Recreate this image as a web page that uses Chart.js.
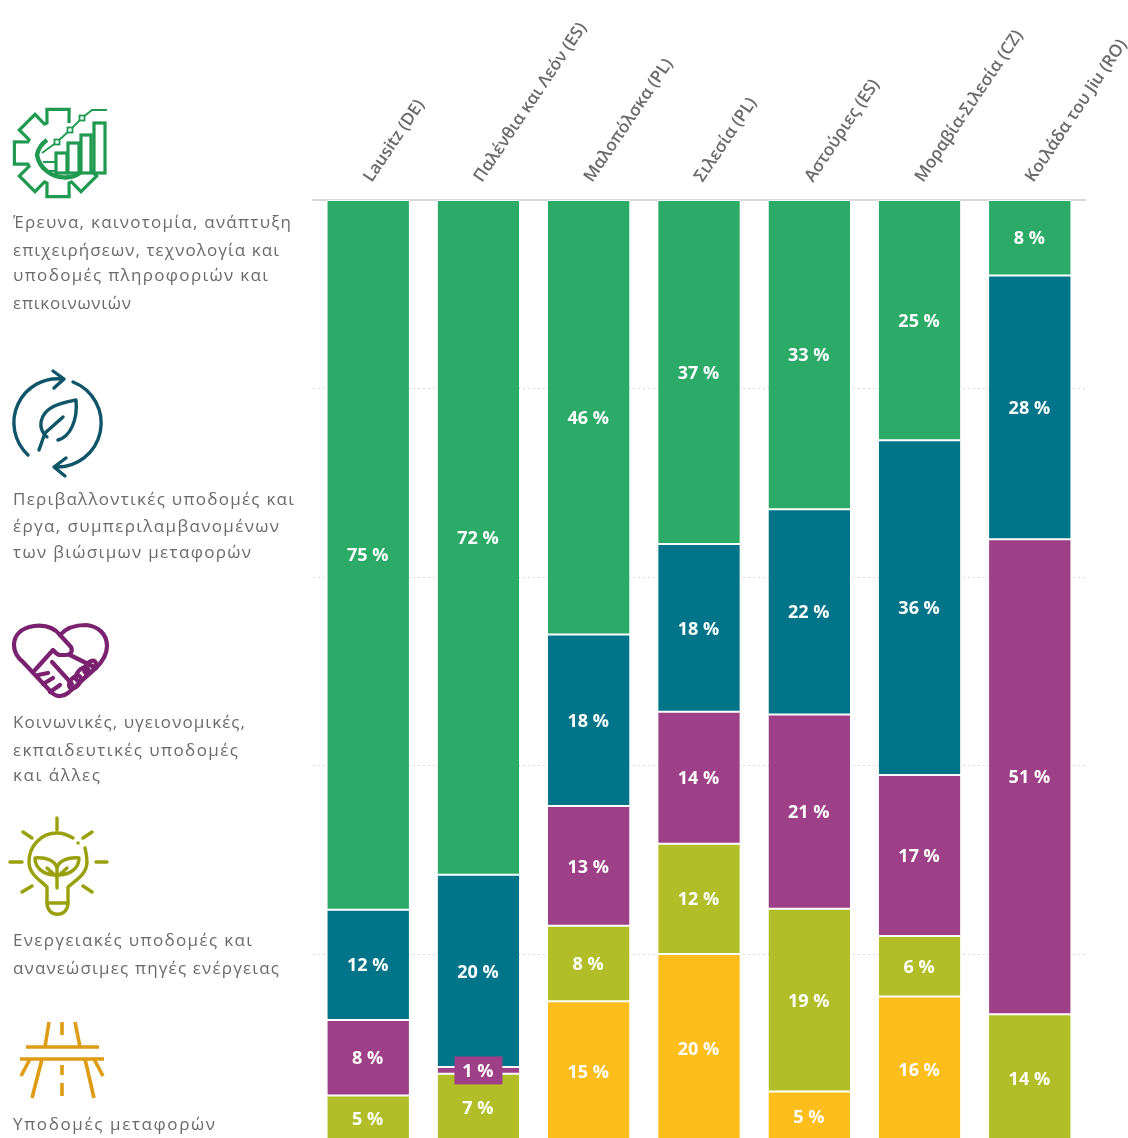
<!DOCTYPE html>
<html lang="el"><head><meta charset="utf-8">
<script src="https://cdn.jsdelivr.net/npm/chart.js@4"></script>
<style>
html,body{margin:0;padding:0;background:#fff;width:1128px;height:1138px;overflow:hidden}
#wrap{position:relative;width:1128px;height:1138px;overflow:hidden}
canvas{position:absolute;left:0;top:0}
svg{position:absolute;left:0;top:0}
</style></head><body>
<div id="wrap"><canvas id="c" width="1128" height="1150" style="width:1128px;height:1150px"></canvas>
<svg id="side" width="320" height="1138" viewBox="0 0 320 1138" xmlns="http://www.w3.org/2000/svg">
<!-- gear -->
<g fill="none" stroke="#1f9a50" stroke-width="3.2" stroke-linejoin="miter">
<path id="gear"/>
<path d="M47 140 A24 24 0 0 0 37 155 A26 26 0 0 0 48 172 C56 178 70 180 80 173" stroke-width="4.4"/>
<path d="M43 162 H55 M46 171 H55" stroke-width="2"/>
<path d="M42 153 L57 142 L70 130 L82 118 L92 110 L107 110" stroke-width="1.8"/>
<g fill="#fff"><rect x="56" y="153" width="11" height="20"/><rect x="68" y="143" width="11" height="30"/><rect x="81" y="135" width="10" height="38"/><rect x="94" y="123" width="11" height="50"/></g>
<g fill="#fff" stroke-width="1.8"><rect x="54.500" y="139.500" width="5" height="5"/><rect x="67.500" y="127.500" width="5" height="5"/><rect x="79.500" y="115.500" width="5" height="5"/></g>
</g>
<!-- leaf cycle -->
<g fill="none" stroke="#0f5567" stroke-width="3.4" stroke-linecap="round" stroke-linejoin="round">
<path d="M63 379 A44 44 0 0 0 28 455"/><path d="M53 371 L64 379 L54 388"/>
<path d="M73 382 A44 44 0 0 1 55 467"/><path d="M66 458 L54 467 L65 476"/>
<path d="M58 440 C70 437 78 420 76 400 C62 403 44 406 41 422 C40 428 43 434 47 437"/>
<path d="M39 450 L45 433 L63 417"/>
</g>
<!-- heart handshake -->
<g fill="none" stroke="#7a2170" stroke-width="4.2" stroke-linecap="round" stroke-linejoin="round">
<path d="M60 635 C52 625 42 625 34 626 C20 628 14 636 14 645 C14 652 18 658 23 662 L52 693 C58 698 64 696 68 693 L96 668 C104 660 107 654 107 646 C107 634 98 626 86 625 C76 625 66 628 60 635"/>
<path d="M60 635 L71 647 C73 651 71 655 66 655 L60 655 C57 655 55 652 53 650 L35 670"/>
<path d="M38 675 L48 673 M43 684 L53 678 M50 692 L60 685 M52 662 L72 684"/>
<path d="M70 655 L96 668"/>
<ellipse cx="75" cy="682" rx="7.500" ry="4.500" transform="rotate(-50 75 682)"/>
<ellipse cx="82" cy="674" rx="8" ry="4.500" transform="rotate(-50 82 674)"/>
<ellipse cx="90" cy="667" rx="7.500" ry="4.200" transform="rotate(-50 90 667)"/>
</g>
<!-- bulb -->
<g fill="none" stroke="#9aa00c" stroke-width="3.4" stroke-linecap="round" stroke-linejoin="round">
<path d="M57 818 V830 M23 832 L32 838 M92 832 L83 838 M10 862 H22 M96 862 H107 M22 892 L32 886 M92 892 L83 886"/>
<path d="M73 838 C68 835 62 833 57 833 C41 833 29 846 29 862 C29 874 40 880 47 887 V903 H68 V887 C76 880 87 874 87 862 C87 856 86 852 85 848"/>
<path d="M78 843 h.1"/>
<path d="M47 903 C47 918 68 918 68 903"/>
<path d="M57 888 V868 C55 860 45 857 35 858 C35 867 42 875 57 875 C72 875 79 867 79 858 C69 857 59 860 57 868 M47 868 L57 877 M67 868 L57 877"/>
</g>
<!-- road -->
<g fill="none" stroke="#de9c14" stroke-width="3.6">
<path d="M26 1047 H99 M20 1059 H104"/>
<path d="M49 1022 L45 1047 M75 1022 L80 1047 M62 1022 V1035 M62 1065 V1075 M62 1083 V1096"/>
<path d="M42 1059 L32 1098 M30 1059 L21 1076 M85 1059 L94 1098 M94 1059 L103 1076"/>
</g>
<g id="texts"></g>
</svg></div>
<script>
const categories = ["Lausitz (DE)","Παλένθια και Λεόν (ES)","Μαλοπόλσκα (PL)","Σιλεσία (PL)","Αστούριες (ES)","Μοραβία-Σιλεσία (CZ)","Κοιλάδα του Jiu (RO)"];
const transport  = [0, 0, 15.0, 20.0, 5.4, 15.5, 0];
const energy     = [5.0, 7.3, 8.0, 11.7, 19.4, 6.4, 13.6];
const social     = [8.0, 0.7, 12.7, 14.0, 20.6, 17.1, 50.4];
const environ    = [11.7, 20.4, 18.2, 17.8, 21.8, 35.5, 28.0];
const research   = [75.3, 71.6, 46.1, 36.5, 32.8, 25.5, 8.0];
const transportLabels = [null, null, "15 %", "20 %", "5 %", "16 %", null];
const energyLabels    = ["5 %", "7 %", "8 %", "12 %", "19 %", "6 %", "14 %"];
const socialLabels    = ["8 %", "1 %", "13 %", "14 %", "21 %", "17 %", "51 %"];
const environLabels   = ["12 %", "20 %", "18 %", "18 %", "22 %", "36 %", "28 %"];
const researchLabels  = ["75 %", "72 %", "46 %", "37 %", "33 %", "25 %", "8 %"];
const yTicksStep = 20;
const sideLines = [
 ["Έρευνα, καινοτομία, ανάπτυξη",228,278],["επιχειρήσεων,  τεχνολογία και",256,266],["υποδομές πληροφοριών και",281,255],["επικοινωνιών",309,118],
 ["Περιβαλλοντικές υποδομές και",505,281],["έργα, συμπεριλαμβανομένων",532,266],["των βιώσιμων μεταφορών",558,238],
 ["Κοινωνικές, υγειονομικές,",728,232],["εκπαιδευτικές υποδομές",756,225],["και άλλες",781,87],
 ["Ενεργειακές υποδομές και",946,239],["ανανεώσιμες πηγές ενέργειας",974,266],
 ["Υποδομές μεταφορών",1130,202]
];

// side captions
const NS="http://www.w3.org/2000/svg", tg=document.getElementById("texts");
sideLines.forEach(([s,y,w])=>{
  const t=document.createElementNS(NS,"text");
  t.setAttribute("x",13);t.setAttribute("y",y);t.setAttribute("textLength",w);t.setAttribute("lengthAdjust","spacing");
  t.setAttribute("fill","#6a6a6a");t.setAttribute("font-family","'Open Sans'");t.setAttribute("font-size","17");
  t.setAttribute("xml:space","preserve");t.textContent=s;tg.appendChild(t);
});
// gear outline: open path, the upper right teeth are left out as in the icon
(function(){
  const cx=58,cy=153,ro=45,ri=32,n=8;let d="";
  [3,4,5,6,7,8].forEach(i=>{
    const a=(i/n)*2*Math.PI-Math.PI/2, w=.25, v=.35;
    [[ri,a-v],[ro,a-w],[ro,a+w],[ri,a+v]].forEach(([r,t])=>{
      const x=cx+r*Math.cos(t),y=cy+r*Math.sin(t);d+=(d?"L":"M")+x.toFixed(1)+" "+y.toFixed(1)+" ";});
  });
  document.getElementById("gear").setAttribute("d",d);
})();

const labelSets=[transportLabels,energyLabels,socialLabels,environLabels,researchLabels];
const labelPlugin={id:"segLabels",afterDatasetsDraw(chart){
  const ctx=chart.ctx;ctx.save();
  ctx.font="700 18px 'Open Sans'";ctx.textAlign="center";ctx.textBaseline="middle";
  chart.data.datasets.forEach((ds,i)=>{
    chart.getDatasetMeta(i).data.forEach((bar,j)=>{
      const txt=labelSets[i][j]; if(!txt) return;
      const y=(bar.y+bar.base)/2;
      if(bar.base-bar.y<20){ctx.fillStyle=ds.backgroundColor;ctx.fillRect(bar.x-24,y-14,48,28);}
      ctx.fillStyle="#fff";ctx.fillText(txt,bar.x-0.5,y+1.5);
    });
  });
  ctx.restore();
}};

function ds(label,data,color){return {label,data,backgroundColor:color,borderColor:"#fff",borderWidth:{top:1,bottom:1,left:0,right:0},borderSkipped:false,barPercentage:.74,categoryPercentage:1,stack:"s"};}
new Chart(document.getElementById("c"),{
  type:"bar",
  data:{labels:categories,datasets:[
    ds("Υποδομές μεταφορών",transport,"#fdbe1b"),
    ds("Ενεργειακές υποδομές",energy,"#b1be27"),
    ds("Κοινωνικές υποδομές",social,"#9e4087"),
    ds("Περιβαλλοντικές υποδομές",environ,"#00758a"),
    ds("Έρευνα και καινοτομία",research,"#2bab67")
  ]},
  plugins:[labelPlugin],
  options:{
    responsive:false,animation:false,devicePixelRatio:1,
    layout:{padding:{left:313,right:43,top:0,bottom:7.5}},
    plugins:{legend:{display:false},title:{display:false},tooltip:{enabled:false}},
    scales:{
      x:{position:"top",stacked:true,
        grid:{display:false},
        border:{display:true,color:"#d9d9d9",width:2},
        ticks:{minRotation:56,maxRotation:56,autoSkip:false,padding:6,labelOffset:16.5,color:"#6a6a6a",font:{family:"'Open Sans'",size:17,weight:"600"}},
        afterFit(s){s.height=200;s.paddingLeft=0;s.paddingRight=0;}
      },
      y:{stacked:true,min:0,max:100,
        ticks:{display:false,stepSize:yTicksStep},
        border:{display:false,dash:[2,3]},
        grid:{color:"#dcdcdc",lineWidth:1,drawTicks:false,tickLength:0},
        afterFit(s){s.width=0;}
      }
    }
  }
});
</script>
</body></html>
